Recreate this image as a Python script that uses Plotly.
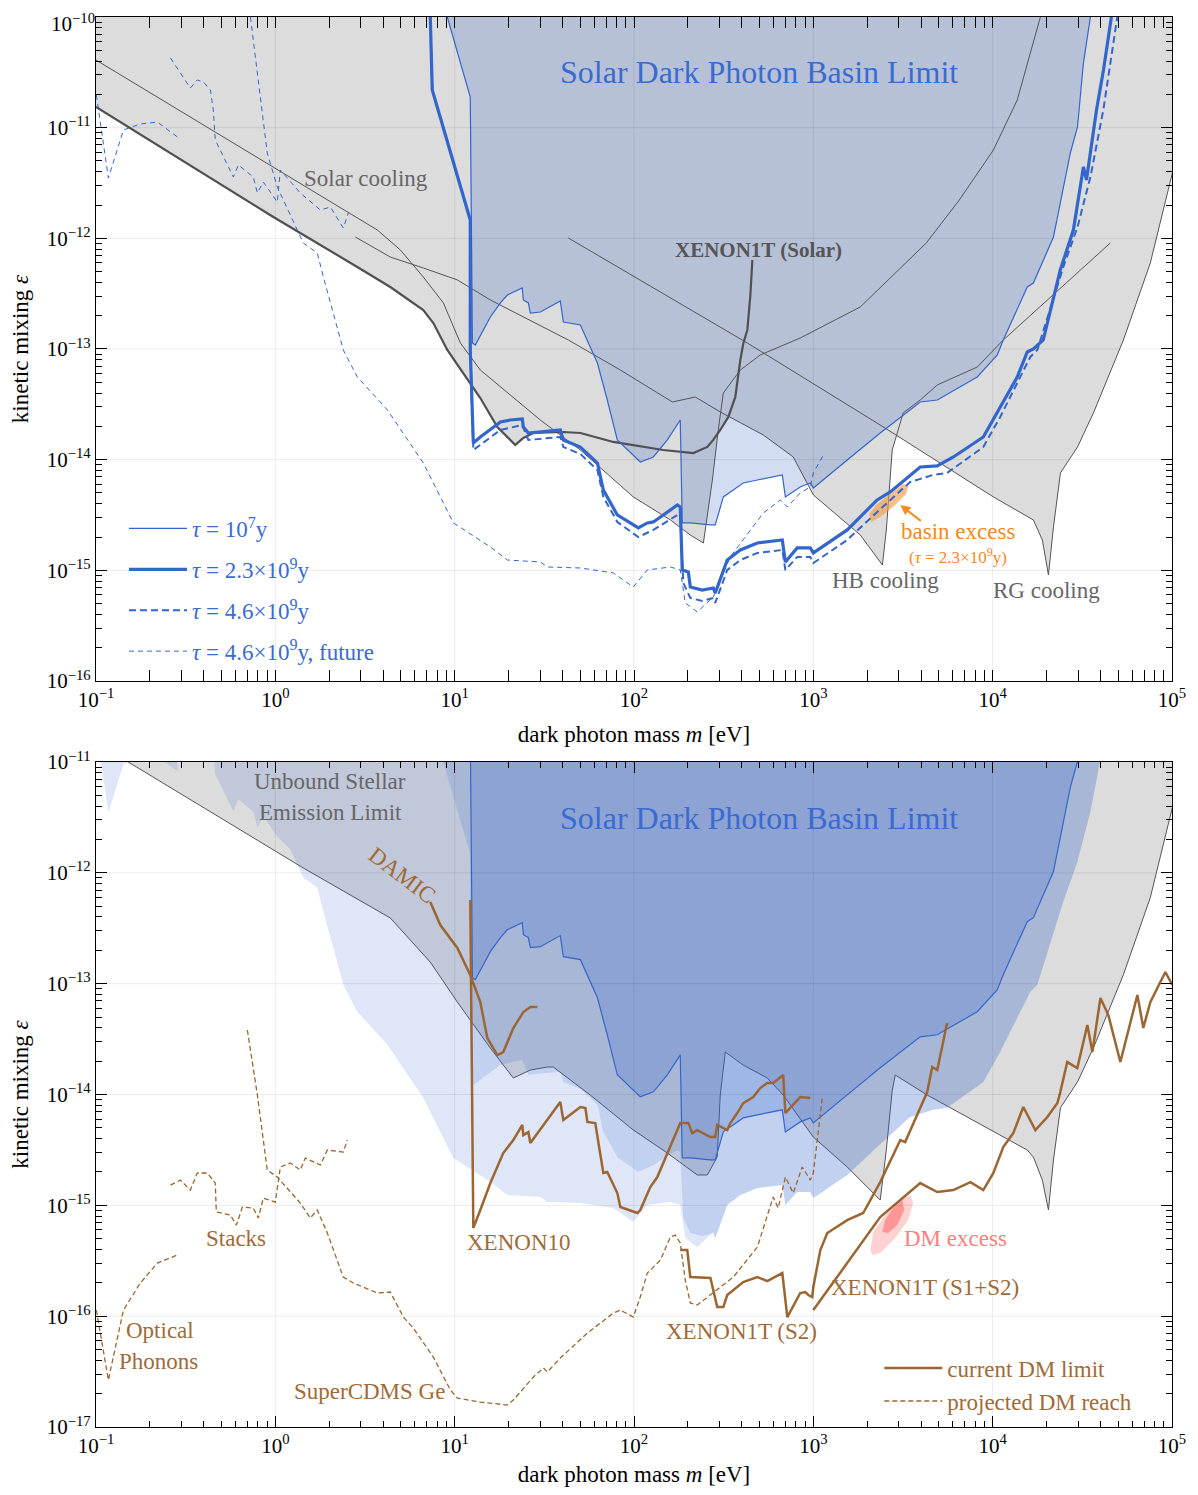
import numpy as np
import plotly.graph_objects as go

# ---------------- data: log10(m / eV) and log10(epsilon) ----------------
# XENON1T (Solar) limit
xenon_solar_lm = [-1.0, -0.011, 0.457, 0.641, 0.825, 0.881, 0.959, 1.143, 1.238, 1.338, 1.383, 1.439, 1.606, 1.701,
                  1.885, 1.980, 2.163, 2.331, 2.409, 2.442, 2.481, 2.526, 2.565, 2.593, 2.610, 2.632, 2.649, 2.660]
xenon_solar_le = [-10.813, -11.807, -12.259, -12.440, -12.648, -12.765, -13.009, -13.443, -13.705, -13.867, -13.804,
                  -13.759, -13.750, -13.759, -13.840, -13.867, -13.913, -13.940, -13.885, -13.822, -13.732, -13.614,
                  -13.434, -13.099, -12.946, -12.828, -12.512, -12.196]
# Solar cooling
solar_lm = [-1.0, 0.418, 0.569, 0.697, 0.825, 0.937, 1.032, 1.143, 1.478, 1.701, 1.996, 2.203, 2.314, 2.387, 2.437,
            2.470, 2.498, 2.593, 2.704, 2.927, 3.262, 3.630, 3.814, 4.004, 4.137, 4.266]
solar_le = [-10.389, -11.771, -11.925, -12.105, -12.349, -12.584, -12.946, -13.190, -13.642, -13.913, -14.337, -14.545,
            -14.681, -14.753, -14.184, -13.732, -13.398, -13.190, -13.054, -12.901, -12.620, -12.042, -11.654, -11.202,
            -10.750, -10.0]
# HB cooling
hb_lm = [0.446, 0.641, 0.825, 1.015, 1.199, 1.634, 1.924, 2.214, 2.342, 2.481, 2.721, 2.888, 3.000, 3.262, 3.385,
         3.407, 3.440, 3.501, 3.596, 3.691, 3.914, 4.059, 4.656]
hb_le = [-11.988, -12.169, -12.268, -12.376, -12.557, -12.919, -13.190, -13.479, -13.434, -13.569, -13.777, -13.976,
         -14.319, -14.681, -14.952, -14.636, -13.913, -13.578, -13.461, -13.325, -13.163, -12.919, -12.042]
# RG cooling
rg_lm = [1.634, 2.632, 3.373, 4.004, 4.227, 4.277, 4.311, 4.339, 4.378, 4.473, 4.562, 4.729, 4.879, 5.002]
rg_le = [-11.997, -12.946, -13.687, -14.337, -14.545, -14.726, -15.042, -14.608, -14.120, -13.886, -13.578, -12.919,
         -12.223, -11.410]

# solar basin limits
tau7_lm = [0.959, 1.087, 1.099, 1.115, 1.199, 1.255, 1.294, 1.377, 1.383, 1.411, 1.422, 1.478, 1.589, 1.606, 1.701,
           1.740, 1.796, 1.851, 1.907, 2.035, 2.108, 2.186, 2.258, 2.269, 2.314, 2.425, 2.453, 2.498, 2.609, 2.688,
           2.827, 2.844, 2.927, 2.983, 3.000, 3.189, 3.373, 3.596, 3.691, 3.914, 4.026, 4.059, 4.193, 4.227, 4.339,
           4.433, 4.473, 4.506, 4.545]
tau7_le = [-10.0, -10.723, -12.946, -12.964, -12.711, -12.584, -12.512, -12.449, -12.557, -12.584, -12.675, -12.666,
           -12.566, -12.756, -12.783, -12.919, -13.127, -13.461, -13.822, -14.021, -13.976, -13.822, -13.642, -14.572,
           -14.572, -14.590, -14.590, -14.337, -14.211, -14.184, -14.138, -14.337, -14.247, -14.211, -14.256, -14.003,
           -13.759, -13.479, -13.461, -13.253, -13.054, -12.919, -12.440, -12.404, -11.988, -11.229, -10.994, -10.416,
           -10.0]
tau23_lm = [0.864, 0.875, 1.087, 1.087, 1.104, 1.143, 1.255, 1.310, 1.377, 1.383, 1.411, 1.589, 1.606, 1.701, 1.796,
            1.829, 1.907, 2.024, 2.074, 2.108, 2.242, 2.258, 2.269, 2.303, 2.314, 2.381, 2.442, 2.453, 2.520, 2.593,
            2.688, 2.827, 2.844, 2.910, 2.983, 3.000, 3.189, 3.356, 3.429, 3.596, 3.691, 3.781, 3.948, 4.042, 4.137,
            4.193, 4.227, 4.282, 4.377, 4.450, 4.506, 4.523, 4.579, 4.618, 4.662]
tau23_le = [-10.0, -10.660, -11.834, -13.009, -13.849, -13.795, -13.660, -13.642, -13.633, -13.705, -13.759, -13.732,
            -13.822, -13.886, -14.030, -14.274, -14.500, -14.617, -14.572, -14.563, -14.410, -14.428, -14.997, -15.015,
            -15.151, -15.178, -15.160, -15.205, -14.907, -14.816, -14.753, -14.726, -14.925, -14.798, -14.798, -14.843,
            -14.635, -14.364, -14.292, -14.066, -14.057, -13.976, -13.795, -13.524, -13.253, -13.027, -13.000, -12.919,
            -12.286, -11.925, -11.355, -11.473, -10.840, -10.479, -10.0]
tau46_lm = [0.864, 0.875, 1.087, 1.087, 1.104, 1.143, 1.255, 1.377, 1.411, 1.589, 1.606, 1.701, 1.796, 1.829, 1.907,
            2.024, 2.108, 2.242, 2.258, 2.275, 2.314, 2.381, 2.442, 2.453, 2.520, 2.593, 2.688, 2.827, 2.844, 2.910,
            2.983, 3.000, 3.189, 3.356, 3.540, 3.668, 3.746, 3.948, 4.042, 4.210, 4.249, 4.394, 4.473, 4.545, 4.617,
            4.695]
tau46_le = [-10.0, -10.660, -11.834, -13.009, -13.913, -13.867, -13.732, -13.687, -13.822, -13.795, -13.886, -13.949,
            -14.093, -14.337, -14.563, -14.699, -14.635, -14.500, -14.518, -15.114, -15.250, -15.277, -15.250, -15.295,
            -14.997, -14.907, -14.843, -14.816, -14.997, -14.879, -14.879, -14.934, -14.726, -14.473, -14.202, -14.138,
            -14.120, -13.886, -13.614, -13.072, -13.009, -12.259, -11.898, -11.446, -10.840, -10.0]
# future reach (tau = 4.6e9 y), three pieces
futA_lm = [-0.998, -0.931, -0.847, -0.753, -0.658, -0.546]
futA_le = [-10.705, -11.455, -11.021, -10.967, -10.949, -11.084]
futB_lm = [-0.585, -0.474, -0.435, -0.401, -0.362, -0.346, -0.335, -0.234, -0.206, -0.123, -0.100, -0.067, 0.011,
           0.028, 0.139, 0.251, 0.307, 0.379, 0.407]
futB_le = [-10.370, -10.642, -10.569, -10.587, -10.660, -10.840, -11.111, -11.446, -11.337, -11.446, -11.590, -11.491,
           -11.672, -11.383, -11.590, -11.744, -11.717, -11.907, -11.771]
futC_lm = [-0.139, -0.045, 0.011, 0.084, 0.156, 0.234, 0.268, 0.379, 0.457, 0.625, 0.825, 0.993, 1.199, 1.294, 1.478,
           1.517, 1.701, 1.885, 1.996, 2.074, 2.203, 2.258, 2.286, 2.353, 2.442, 2.537, 2.721, 2.816, 2.855, 2.927,
           2.983, 3.000, 3.056]
futC_le = [-10.0, -11.229, -11.536, -11.789, -12.042, -12.133, -12.349, -13.009, -13.253, -13.551, -14.030, -14.572,
           -14.789, -14.907, -14.925, -14.970, -14.979, -15.024, -15.151, -14.997, -14.970, -14.997, -15.295, -15.377,
           -15.241, -14.879, -14.482, -14.364, -14.428, -14.301, -14.247, -14.120, -13.958]
# basin excess (tau = 2.3e9 y)
basin_excess_lm = [3.323, 3.312, 3.351, 3.429, 3.501, 3.530, 3.518, 3.457, 3.373]
basin_excess_le = [-14.563, -14.491, -14.410, -14.310, -14.220, -14.238, -14.310, -14.410, -14.518]

# lower edge of the combined stellar / XENON1T-solar exclusion (lower panel)
stellar_env_lm = [-1.0, -0.820, 0.156, 0.641, 0.864, 1.015, 1.199, 1.327, 1.422, 1.517, 1.550, 1.756, 1.996, 2.186,
                  2.353, 2.409, 2.464, 2.481, 2.509, 2.609, 2.743, 2.832, 3.000, 3.189, 3.373, 3.407, 3.440, 3.457,
                  3.635, 4.193, 4.227, 4.277, 4.311, 4.339, 4.378, 4.473, 4.562, 4.729, 4.879, 5.002]
stellar_env_le = [-10.813, -11.0, -11.956, -12.407, -12.805, -13.166, -13.581, -13.851, -13.779, -13.752, -13.752,
                  -14.005, -14.320, -14.528, -14.726, -14.726, -14.564, -14.005, -13.617, -13.734, -13.851, -14.005,
                  -14.384, -14.654, -14.952, -14.501, -13.960, -13.824, -14.005, -14.501, -14.564, -14.772, -15.042,
                  -14.591, -14.120, -13.886, -13.578, -12.919, -12.223, -11.410]

# dark matter direct detection (lower panel)
damic_lm = [0.864, 0.920, 1.015, 1.087, 1.143, 1.182, 1.238, 1.271, 1.327, 1.383, 1.422, 1.461]
damic_le = [-12.263, -12.471, -12.678, -12.922, -13.166, -13.490, -13.644, -13.617, -13.400, -13.256, -13.211, -13.211]
xenon10_lm = [1.087, 1.093, 1.099, 1.104, 1.143, 1.199, 1.271, 1.327, 1.377, 1.383, 1.411, 1.422, 1.589, 1.606, 1.701,
              1.729, 1.740, 1.784, 1.829, 1.851, 1.907, 1.924, 2.019, 2.035, 2.091, 2.130, 2.258, 2.303, 2.325, 2.353,
              2.426, 2.453, 2.464, 2.520, 2.537, 2.576, 2.609, 2.665, 2.704, 2.743, 2.776, 2.832, 2.844, 2.927, 2.983]
xenon10_le = [-12.245, -13.147, -14.050, -15.205, -15.042, -14.799, -14.528, -14.411, -14.275, -14.366, -14.339,
              -14.438, -14.068, -14.230, -14.113, -14.122, -14.248, -14.257, -14.708, -14.699, -14.889, -15.015,
              -15.069, -15.042, -14.835, -14.745, -14.257, -14.257, -14.348, -14.321, -14.384, -14.384, -14.275,
              -14.321, -14.257, -14.167, -14.077, -14.023, -13.942, -13.896, -13.896, -13.824, -14.167, -14.023,
              -14.032]
xenon1t_s2_lm = [2.258, 2.297, 2.314, 2.426, 2.442, 2.464, 2.498, 2.520, 2.609, 2.688, 2.743, 2.827, 2.855, 2.927, 2.955,
                 2.972, 2.994, 3.000, 3.039, 3.078, 3.189, 3.278, 3.373, 3.485, 3.512, 3.635, 3.663, 3.691, 3.746]
xenon1t_s2_le = [-15.403, -15.403, -15.647, -15.656, -15.764, -15.918, -15.918, -15.809, -15.692, -15.647, -15.683,
                 -15.611, -16.008, -15.791, -15.782, -15.809, -15.827, -15.737, -15.403, -15.250, -15.133, -15.069,
                 -14.790, -14.411, -14.429, -13.978, -13.752, -13.779, -13.355]
xenon1t_s1s2_lm = [3.000, 3.262, 3.373, 3.596, 3.691, 3.781, 3.876, 3.948, 4.004, 4.059, 4.115, 4.171, 4.238, 4.305,
                   4.361, 4.377, 4.416, 4.472, 4.528, 4.556, 4.601, 4.645, 4.712, 4.807, 4.840, 4.879, 4.963, 5.002]
xenon1t_s1s2_le = [-15.945, -15.358, -15.106, -14.799, -14.880, -14.862, -14.790, -14.862, -14.708, -14.474, -14.348,
                   -14.113, -14.321, -14.203, -14.077, -13.978, -13.707, -13.761, -13.373, -13.617, -13.129, -13.283,
                   -13.707, -13.102, -13.400, -13.166, -12.895, -13.012]
optical_lm = [-0.998, -0.931, -0.847, -0.753, -0.658, -0.546]
optical_le = [-15.945, -16.576, -15.945, -15.701, -15.521, -15.448]
stacks_lm = [-0.585, -0.530, -0.474, -0.435, -0.379, -0.335, -0.329, -0.251, -0.217, -0.184, -0.123, -0.095, -0.067,
             0.000, 0.028, 0.084, 0.139, 0.167, 0.251, 0.290, 0.379, 0.401]
stacks_le = [-14.817, -14.772, -14.862, -14.708, -14.708, -14.799, -15.060, -15.087, -15.178, -15.015, -15.024, -15.114,
             -14.934, -14.970, -14.654, -14.618, -14.681, -14.573, -14.636, -14.501, -14.519, -14.411]
supercdms_lm = [-0.156, -0.100, -0.045, 0.011, 0.139, 0.195, 0.234, 0.290, 0.379, 0.435, 0.569, 0.641, 0.714, 0.769,
                0.881, 0.976, 1.015, 1.143, 1.294, 1.327, 1.439, 1.495, 1.517, 1.589, 1.740, 1.885, 1.924, 1.996, 2.035,
                2.074, 2.147, 2.203, 2.230, 2.258, 2.286, 2.314, 2.353, 2.442, 2.554, 2.688, 2.743, 2.776, 2.804, 2.844,
                2.888, 2.938, 2.983, 3.000, 3.022, 3.050]
supercdms_le = [-13.418, -14.005, -14.681, -14.745, -14.979, -15.114, -15.042, -15.250, -15.647, -15.701, -15.791,
                -15.782, -16.008, -16.107, -16.369, -16.666, -16.739, -16.775, -16.802, -16.757, -16.549, -16.468,
                -16.504, -16.378, -16.152, -15.972, -15.945, -16.008, -15.827, -15.611, -15.494, -15.286, -15.268,
                -15.340, -15.674, -15.881, -15.899, -15.791, -15.647, -15.376, -15.105, -14.925, -15.024, -14.745,
                -14.889, -14.654, -14.772, -14.708, -14.411, -14.023]
dm_excess_outer_lm = [3.318, 3.334, 3.401, 3.485, 3.541, 3.557, 3.529, 3.457, 3.373, 3.329]
dm_excess_outer_le = [-15.403, -15.241, -15.087, -14.952, -14.907, -14.979, -15.133, -15.295, -15.430, -15.448]
dm_excess_inner_lm = [3.385, 3.401, 3.446, 3.496, 3.507, 3.468, 3.418]
dm_excess_inner_le = [-15.241, -15.133, -15.024, -14.952, -15.042, -15.178, -15.250]

x_tick_exps = [-1, 0, 1, 2, 3, 4, 5]
top_y_tick_exps = [-16, -15, -14, -13, -12, -11]
top_y_edge_exp = -10
bot_y_tick_exps = [-17, -16, -15, -14, -13, -12, -11]

# ---------------- styling ----------------
FONT = "Liberation Serif"
GRAY_FILL = "#dcdcdc"
GRAY_LINE = "#555555"
BLUE = "#3366cc"
BLUE_TXT = "#3a6bd1"
BROWN = "#9c6633"
BROWN_TXT = "#a06a38"
ORANGE = "#f58a1f"
CEIL = -9.0


def P(a):
    return 10 ** np.asarray(a, dtype=float)


def region(lm, le):
    lm = np.asarray(lm, float)
    le = np.asarray(le, float)
    return P(np.r_[lm[0], lm, lm[-1]]), P(np.r_[CEIL, le, CEIL])


fig = go.Figure()


def add(trace, bottom=False):
    if bottom:
        trace.update(xaxis="x2", yaxis="y2")
    fig.add_trace(trace)


def fill_region(lm, le, color, bottom=False):
    x, y = region(lm, le)
    add(go.Scatter(x=x, y=y, mode="lines", fill="toself", fillcolor=color, line=dict(width=0),
                   hoverinfo="skip", showlegend=False), bottom)


def line(lm, le, color, width, dash="solid", bottom=False, name=None, legend=None, group=None):
    add(go.Scatter(x=P(lm), y=P(le), mode="lines", line=dict(color=color, width=width, dash=dash),
                   hoverinfo="skip", showlegend=name is not None, name=name or "",
                   legend=legend or "legend", legendgroup=group), bottom)


def blob(lm, le, color, bottom=False):
    add(go.Scatter(x=P(list(lm) + [lm[0]]), y=P(list(le) + [le[0]]), mode="lines", fill="toself",
                   fillcolor=color, line=dict(width=0), hoverinfo="skip", showlegend=False), bottom)


# ---------- top panel ----------
for lm, le in [(xenon_solar_lm, xenon_solar_le), (solar_lm, solar_le), (hb_lm, hb_le), (rg_lm, rg_le)]:
    fill_region(lm, le, GRAY_FILL)
fill_region(tau7_lm, tau7_le, "rgba(51,102,204,0.22)")
for lm, le in [(solar_lm, solar_le), (hb_lm, hb_le), (rg_lm, rg_le)]:
    line(lm, le, GRAY_LINE, 1)
line(xenon_solar_lm, xenon_solar_le, "#505050", 2.2)
blob(basin_excess_lm, basin_excess_le, "rgba(247,150,60,0.6)")
line(tau7_lm, tau7_le, BLUE, 1.2, name="<i>τ</i> = 10<sup>7</sup>y", group="a")
line(tau23_lm, tau23_le, BLUE, 3.2, name="<i>τ</i> = 2.3×10<sup>9</sup>y", group="b")
line(tau46_lm, tau46_le, BLUE, 2, dash="7px,4px", name="<i>τ</i> = 4.6×10<sup>9</sup>y", group="c")
line(futA_lm, futA_le, BLUE, 1, dash="5px,4px", name="<i>τ</i> = 4.6×10<sup>9</sup>y, future", group="d")
line(futB_lm, futB_le, BLUE, 1, dash="5px,4px")
line(futC_lm, futC_le, BLUE, 1, dash="5px,4px")

# ---------- bottom panel ----------
fill_region(stellar_env_lm, stellar_env_le, GRAY_FILL, bottom=True)
line(stellar_env_lm, stellar_env_le, GRAY_LINE, 1, bottom=True)
fB = np.asarray(futB_lm)
fC = np.asarray(futC_lm)
d46 = np.asarray(tau46_lm)
reach_lm = np.r_[fB[fB <= 0.02], fC[(fC > 0.05) & (fC <= 2.445)], d46[d46 >= 2.45]]
reach_le = np.r_[np.asarray(futB_le)[fB <= 0.02], np.asarray(futC_le)[(fC > 0.05) & (fC <= 2.445)],
                 np.asarray(tau46_le)[d46 >= 2.45]]
fill_region(futA_lm, futA_le, "rgba(51,102,204,0.16)", bottom=True)
fill_region(reach_lm, reach_le, "rgba(51,102,204,0.16)", bottom=True)
fill_region(tau46_lm, tau46_le, "rgba(51,102,204,0.16)", bottom=True)
fill_region(tau7_lm, tau7_le, "rgba(51,102,204,0.24)", bottom=True)
line(tau7_lm, tau7_le, BLUE, 1.2, bottom=True)
blob(dm_excess_outer_lm, dm_excess_outer_le, "rgba(255,140,140,0.4)", bottom=True)
blob(dm_excess_inner_lm, dm_excess_inner_le, "rgba(255,110,110,0.6)", bottom=True)
line(damic_lm, damic_le, BROWN, 2.5, bottom=True, name="current DM limit", legend="legend2", group="e")
line(xenon10_lm, xenon10_le, BROWN, 2.5, bottom=True)
line(xenon1t_s2_lm, xenon1t_s2_le, BROWN, 2.5, bottom=True)
line(xenon1t_s1s2_lm, xenon1t_s1s2_le, BROWN, 2.5, bottom=True)
line(supercdms_lm, supercdms_le, BROWN, 1.3, dash="5px,3px", bottom=True, name="projected DM reach",
     legend="legend2", group="f")
line(optical_lm, optical_le, BROWN, 1.3, dash="5px,3px", bottom=True)
line(stacks_lm, stacks_le, BROWN, 1.3, dash="5px,3px", bottom=True)


# ---------- axes ----------
def sup(k):
    return "10<sup>" + ("−" + str(-k) if k < 0 else str(k)) + "</sup>"


def minor_vals(lo, hi):
    return [d * 10.0 ** k for k in range(lo, hi) for d in range(2, 10)]


tickfont = dict(family=FONT, size=21, color="black")
common = dict(type="log", showline=True, linecolor="black", linewidth=1.2, mirror="allticks", ticks="inside",
              ticklen=11, tickwidth=1.2, tickcolor="black", showgrid=False, zeroline=False, tickfont=tickfont,
              tickmode="array", automargin=False, ticklabeloverflow="allow")
xcommon = dict(common, range=[-1, 5], tickvals=[10.0 ** k for k in x_tick_exps],
               ticktext=[sup(k) for k in x_tick_exps],
               minor=dict(tickmode="array", tickvals=minor_vals(-1, 5), ticks="inside", ticklen=6,
                          tickcolor="black", tickwidth=1, showgrid=False),
               title=dict(text="dark photon mass <i>m</i> [eV]", font=dict(family=FONT, size=23), standoff=14))
ytitle = dict(text="kinetic mixing <i>ε</i>", font=dict(family=FONT, size=23), standoff=12)

# the page body adds an 8 px margin, so the figure is sized to fit the 1198x1495 window
fig.update_layout(
    width=1182, height=1479, autosize=False,
    margin=dict(l=88, r=18, t=9, b=60),
    paper_bgcolor="white", plot_bgcolor="white",
    font=dict(family=FONT, color="black"),
    xaxis=dict(xcommon, domain=[0, 1], anchor="y"),
    yaxis=dict(common, domain=[0.5291, 1.0], anchor="x", range=[-16, -10],
               tickvals=[10.0 ** k for k in top_y_tick_exps], ticktext=[sup(k) for k in top_y_tick_exps],
               minor=dict(tickmode="array", tickvals=minor_vals(-16, -10), ticks="inside", ticklen=6,
                          tickcolor="black", tickwidth=1, showgrid=False),
               title=ytitle),
    # the label at the very top edge, nudged down a few pixels so it is not clipped by the page edge
    yaxis3=dict(type="log", overlaying="y", anchor="x", side="left", range=[-16, -10], tickmode="array",
                tickvals=[10.0 ** top_y_edge_exp], ticktext=[sup(top_y_edge_exp)], ticks="", showline=False,
                showgrid=False, zeroline=False, tickfont=tickfont, automargin=False, ticklabeloverflow="allow",
                ticklabelshift=7),
    xaxis2=dict(xcommon, domain=[0, 1], anchor="y2"),
    yaxis2=dict(common, domain=[0, 0.4716], anchor="x2", range=[-17, -11],
                tickvals=[10.0 ** k for k in bot_y_tick_exps], ticktext=[sup(k) for k in bot_y_tick_exps],
                minor=dict(tickmode="array", tickvals=minor_vals(-17, -11), ticks="inside", ticklen=6,
                           tickcolor="black", tickwidth=1, showgrid=False),
                title=ytitle),
    legend=dict(x=0.026, y=0.6525, xanchor="left", yanchor="top", bgcolor="rgba(0,0,0,0)",
                font=dict(family=FONT, size=23, color=BLUE_TXT), traceorder="grouped", tracegroupgap=8,
                itemwidth=58),
    legend2=dict(x=0.728, y=0.057, xanchor="left", yanchor="top", bgcolor="rgba(0,0,0,0)",
                 font=dict(family=FONT, size=23, color=BROWN_TXT), traceorder="grouped", tracegroupgap=0,
                 itemwidth=58),
)
# an invisible trace so the overlay axis is laid out
fig.add_trace(go.Scatter(x=[None], y=[None], yaxis="y3", xaxis="x", showlegend=False, hoverinfo="skip"))

# grid lines drawn over the fills (shape coordinates on log axes are data values)
shapes = []
for xr, yr, ylo, yhi in [("x", "y", -16, -10), ("x2", "y2", -17, -11)]:
    for k in range(0, 5):
        shapes.append(dict(type="line", xref=xr, x0=10.0 ** k, x1=10.0 ** k, yref=yr + " domain", y0=0, y1=1,
                           layer="above", line=dict(color="rgba(0,0,0,0.08)", width=1)))
    for k in range(ylo + 1, yhi):
        shapes.append(dict(type="line", yref=yr, y0=10.0 ** k, y1=10.0 ** k, xref=xr + " domain", x0=0, x1=1,
                           layer="above", line=dict(color="rgba(0,0,0,0.08)", width=1)))
fig.update_layout(shapes=shapes)


def text(t, x, y, size, color, xr="x", yr="y", bold=False, angle=0, xanchor="center"):
    if bold:
        t = "<b>" + t + "</b>"
    fig.add_annotation(text=t, x=x, y=y, xref=xr, yref=yr, showarrow=False, textangle=angle, xanchor=xanchor,
                       font=dict(family=FONT, size=size, color=color))


# top labels
text("Solar Dark Photon Basin Limit", 2.699, -10.497, 32, BLUE_TXT)
text("Solar cooling", 0.507, -11.455, 23, "#666666")
text("XENON1T (Solar)", 2.693, -12.105, 21, "#555555", bold=True)
text("HB cooling", 3.401, -15.096, 23, "#666666")
text("RG cooling", 4.299, -15.178, 23, "#666666")
text("basin excess", 3.808, -14.645, 23, ORANGE)
text("(<i>τ</i> = 2.3×10<sup>9</sup>y)", 3.808, -14.870, 17, ORANGE)
fig.add_annotation(x=3.485, y=-14.410, xref="x", yref="y", ax=22, ay=17, text="", showarrow=True,
                   arrowhead=2, arrowsize=1, arrowwidth=2, arrowcolor=ORANGE)

# bottom labels
text("Unbound Stellar", 0.307, -11.180, 23, "#666666", "x2", "y2")
text("Emission Limit", 0.307, -11.451, 23, "#666666", "x2", "y2")
text("Solar Dark Photon Basin Limit", 2.699, -11.505, 32, BLUE_TXT, "x2", "y2")
text("DAMIC", 0.708, -12.020, 23, BROWN_TXT, "x2", "y2", angle=37)
text("Stacks", -0.217, -15.295, 23, BROWN_TXT, "x2", "y2")
text("XENON10", 1.361, -15.331, 23, BROWN_TXT, "x2", "y2")
text("Optical", -0.842, -16.125, 23, BROWN_TXT, "x2", "y2", xanchor="left")
text("Phonons", -0.881, -16.405, 23, BROWN_TXT, "x2", "y2", xanchor="left")
text("SuperCDMS Ge", 0.524, -16.684, 23, BROWN_TXT, "x2", "y2")
text("XENON1T (S2)", 2.598, -16.134, 23, BROWN_TXT, "x2", "y2")
text("XENON1T (S1+S2)", 3.624, -15.737, 23, BROWN_TXT, "x2", "y2")
text("DM excess", 3.792, -15.295, 23, "#ff8080", "x2", "y2")

fig.write_html("out.html")
